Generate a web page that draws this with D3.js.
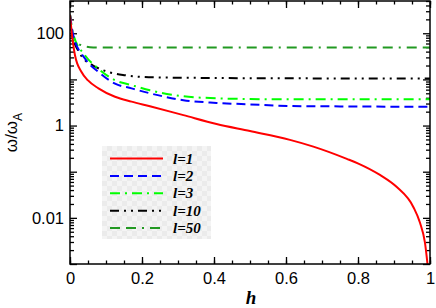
<!DOCTYPE html>
<html>
<head>
<meta charset="utf-8">
<script src="https://cdn.jsdelivr.net/npm/d3@7/dist/d3.min.js"></script>
<style>
  body { margin: 0; background: #fff; }
  svg { display: block; font-family: "Liberation Sans", Arial, sans-serif; }
  .axis path { display: none; }
  .axis line { stroke: #000; stroke-width: 1.3; }
  .axis text { font-size: 16.5px; fill: #000; }
  .curve { fill: none; stroke-width: 2; }
</style>
</head>
<body>
<script>
"use strict";

// values (h, omega/omega_A)
var hL1 = [0, 0.005, 0.014, 0.032, 0.05, 0.079, 0.125, 0.171, 0.222, 0.315, 0.407, 0.5, 0.611, 0.676, 0.769, 0.801, 0.861, 0.907, 0.954, 0.972, 0.986, 0.997];
var wL1 = [250, 100, 33, 14.5, 9.5, 6.4, 4.2, 3.3, 2.62, 1.68, 1.08, 0.76, 0.49, 0.35, 0.19, 0.15, 0.085, 0.047, 0.017, 0.0079, 0.0029, 0.0005];

var hL2 = [0, 0.009, 0.042, 0.079, 0.125, 0.171, 0.222, 0.315, 0.407, 0.5, 0.611, 0.75, 1.0];
var wL2 = [250, 90, 28, 14.5, 8.1, 6.4, 5.0, 3.55, 3.1, 2.87, 2.65, 2.6, 2.55];

var hL3 = [0, 0.009, 0.042, 0.079, 0.125, 0.171, 0.222, 0.315, 0.407, 0.5, 0.6, 0.8, 1.0];
var wL3 = [250, 95, 33, 17, 9.6, 7.5, 5.8, 4.3, 3.9, 3.75, 3.7, 3.7, 3.7];

var hL10 = [0, 0.005, 0.022, 0.042, 0.064, 0.106, 0.153, 0.2, 0.25, 0.35, 0.5, 0.75, 1.0];
var wL10 = [250, 100, 43, 26, 20, 14.5, 12.3, 11.3, 11, 10.8, 10.6, 10.5, 10.4];

var hL50 = [0, 0.009, 0.022, 0.055, 0.1, 0.3, 0.6, 1.0];
var wL50 = [250, 83, 60, 50, 49, 49, 49, 49];

var seriesNames = ["l=1", "l=2", "l=3", "l=10", "l=50"];
var seriesColors = ["#ff0000", "#0000ff", "#00ff00", "#000000", "#229922"];
var seriesDashes = [null, "9,5", "10,5,2,5", "9,5,2,5,2,5", "10,6,10,6,2,6"];

var xTickLabels = [0, 0.2, 0.4, 0.6, 0.8, 1];
var yTickLabels = [0.01, 1, 100];

var width = 436, height = 308;
var plotLeft = 70, plotRight = 430, plotTop = 1, plotBottom = 264;

var svg = d3.select("body").append("svg")
  .attr("width", width)
  .attr("height", height);

var x = d3.scaleLinear().domain([0, 1]).range([plotLeft, plotRight]);
var y = d3.scaleLog().domain([0.001, 500]).range([plotBottom, plotTop]);

// tick positions
var xMinor = d3.range(0, 21).map(function (i) { return i / 20; });
var yMajor = [0.001, 0.01, 0.1, 1, 10, 100];
var yMinor = [];
yMajor.forEach(function (d) {
  for (var k = 2; k <= 9; k++) {
    if (d * k <= 500) yMinor.push(d * k);
  }
});

function fmt(d) { return String(+d.toFixed(2)); }

// ticks point inward on all four sides
svg.append("g").attr("class", "axis")
  .attr("transform", "translate(0," + plotBottom + ")")
  .call(d3.axisBottom(x).tickValues(xMinor).tickSize(-3.5).tickFormat(""));
svg.append("g").attr("class", "axis")
  .attr("transform", "translate(0," + plotBottom + ")")
  .call(d3.axisBottom(x).tickValues(xTickLabels).tickSize(-7).tickPadding(8).tickFormat(fmt));
svg.append("g").attr("class", "axis")
  .attr("transform", "translate(0," + plotTop + ")")
  .call(d3.axisTop(x).tickValues(xMinor).tickSize(-3.5).tickFormat(""));
svg.append("g").attr("class", "axis")
  .attr("transform", "translate(0," + plotTop + ")")
  .call(d3.axisTop(x).tickValues(xTickLabels).tickSize(-7).tickFormat(""));

svg.append("g").attr("class", "axis")
  .attr("transform", "translate(" + plotLeft + ",0)")
  .call(d3.axisLeft(y).tickValues(yMinor).tickSize(-4).tickFormat(""));
svg.append("g").attr("class", "axis")
  .attr("transform", "translate(" + plotLeft + ",0)")
  .call(d3.axisLeft(y).tickValues(yMajor).tickSize(-7).tickFormat(""));
svg.append("g").attr("class", "axis")
  .attr("transform", "translate(" + plotLeft + ",0)")
  .call(d3.axisLeft(y).tickValues(yTickLabels).tickSize(0).tickPadding(6).tickFormat(fmt));
svg.append("g").attr("class", "axis")
  .attr("transform", "translate(" + plotRight + ",0)")
  .call(d3.axisRight(y).tickValues(yMinor).tickSize(-4).tickFormat(""));
svg.append("g").attr("class", "axis")
  .attr("transform", "translate(" + plotRight + ",0)")
  .call(d3.axisRight(y).tickValues(yMajor).tickSize(-7).tickFormat(""));

svg.append("clipPath").attr("id", "plot")
  .append("rect")
  .attr("x", plotLeft).attr("y", plotTop)
  .attr("width", plotRight - plotLeft).attr("height", plotBottom - plotTop);

var line = d3.line()
  .x(function (d) { return x(d[0]); })
  .y(function (d) { return y(d[1]); })
  .curve(d3.curveMonotoneX);

var series = [[hL1, wL1], [hL2, wL2], [hL3, wL3], [hL10, wL10], [hL50, wL50]];

// draw l=50 first so the red curve sits on top
var curves = svg.append("g").attr("clip-path", "url(#plot)");
for (var i = series.length - 1; i >= 0; i--) {
  var pts = d3.zip(series[i][0], series[i][1]);
  curves.append("path")
    .attr("class", "curve")
    .attr("d", line(pts))
    .attr("stroke", seriesColors[i])
    .attr("stroke-dasharray", seriesDashes[i]);
}

// frame
svg.append("rect")
  .attr("x", plotLeft).attr("y", plotTop)
  .attr("width", plotRight - plotLeft).attr("height", plotBottom - plotTop)
  .attr("fill", "none")
  .attr("stroke", "#000")
  .attr("stroke-width", 1.5);

// legend with checkered grey background
var pat = svg.append("defs").append("pattern")
  .attr("id", "checker")
  .attr("patternUnits", "userSpaceOnUse")
  .attr("width", 10).attr("height", 10);
pat.append("rect").attr("width", 10).attr("height", 10).attr("fill", "#ebebeb");
pat.append("rect").attr("width", 5).attr("height", 5).attr("fill", "#f4f4f4");
pat.append("rect").attr("x", 5).attr("y", 5).attr("width", 5).attr("height", 5).attr("fill", "#f4f4f4");

var legend = svg.append("g").attr("transform", "translate(102,146)");
legend.append("rect")
  .attr("width", 109).attr("height", 93)
  .attr("fill", "url(#checker)");

var rows = legend.selectAll("g.row")
  .data(seriesNames)
  .enter().append("g")
  .attr("class", "row")
  .attr("transform", function (d, i) { return "translate(0," + (12.5 + i * 17.4) + ")"; });

rows.append("line")
  .attr("x1", 8).attr("x2", 61)
  .attr("stroke", function (d, i) { return seriesColors[i]; })
  .attr("stroke-width", 2)
  .attr("stroke-dasharray", function (d, i) { return seriesDashes[i]; });

rows.append("text")
  .attr("x", 71).attr("y", 5)
  .style("font-family", "'Liberation Serif', 'Times New Roman', serif")
  .style("font-style", "italic")
  .style("font-weight", "bold")
  .style("font-size", "15px")
  .text(function (d) { return d; });

// axis titles
svg.append("text")
  .attr("x", (plotLeft + plotRight) / 2 + 1).attr("y", 304)
  .attr("text-anchor", "middle")
  .style("font-family", "'Liberation Serif', 'Times New Roman', serif")
  .style("font-style", "italic")
  .style("font-weight", "bold")
  .style("font-size", "19px")
  .text("h");

var yTitle = svg.append("text")
  .attr("transform", "translate(17," + ((plotTop + plotBottom) / 2) + ") rotate(-90)")
  .attr("text-anchor", "middle")
  .style("font-size", "17px");
yTitle.append("tspan").text("ω/ω");
yTitle.append("tspan").attr("dy", 5).style("font-size", "12px").text("A");
</script>
</body>
</html>
